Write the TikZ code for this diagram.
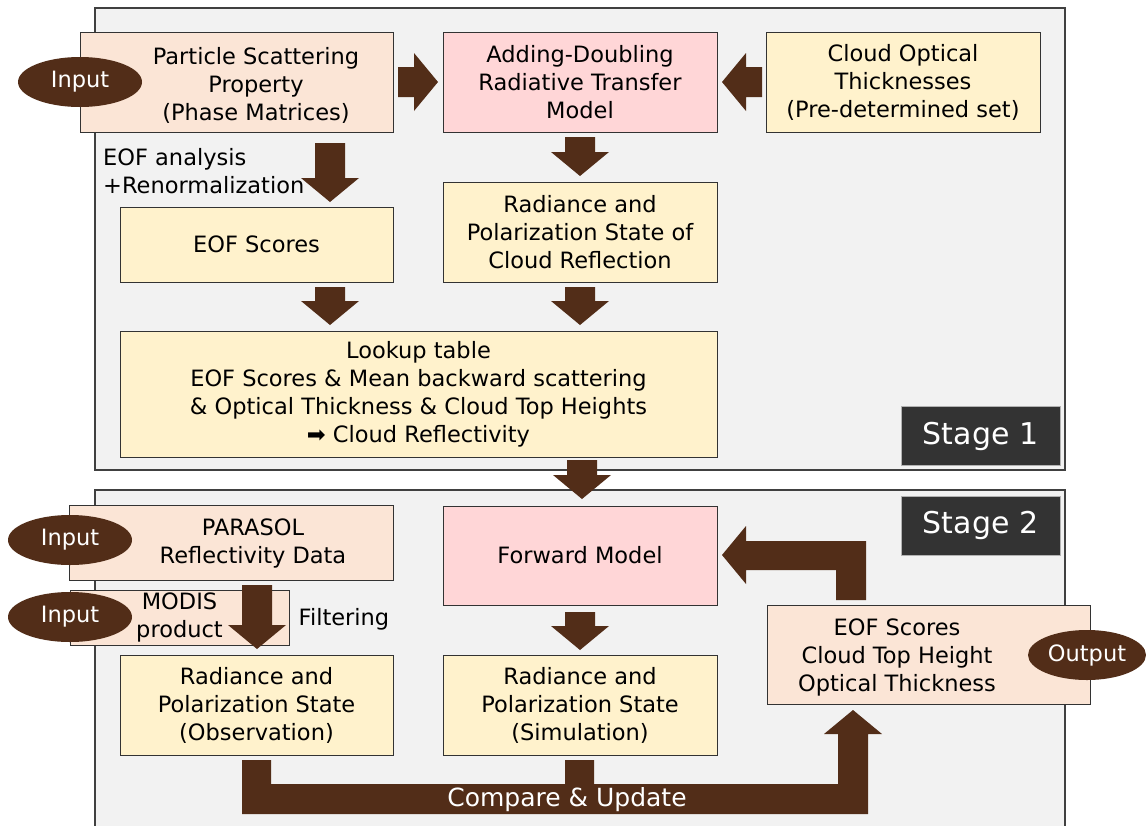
\documentclass[tikz,border=0pt]{standalone}
\usepackage{fontspec}
\setmainfont{DejaVu Sans}
\usetikzlibrary{shapes.geometric}
\definecolor{brn}{HTML}{522D18}
\definecolor{peach}{HTML}{FBE5D6}
\definecolor{mpink}{HTML}{FFD6D7}
\definecolor{myel}{HTML}{FFF2CC}
\definecolor{bggray}{HTML}{F2F2F2}
\definecolor{stgray}{HTML}{333333}
\tikzset{
  box/.style={draw=black!80,line width=1pt,minimum width=274pt,minimum height=100pt,inner sep=0pt,align=center},
  txt/.style={inner sep=0pt,align=center},
  inp/.style={ellipse,fill=brn,text=white,minimum width=124pt,minimum height=50pt,inner sep=0pt},
  stagebg/.style={fill=bggray,draw=black!75,line width=1.5pt},
  stagelbl/.style={fill=stgray,draw=black!30,text=white,minimum width=159pt,minimum height=59pt,font=\fontsize{30}{36}\selectfont},
  blk/.style={fill=brn}
}

\begin{document}
\begin{tikzpicture}[x=1pt,y=-1pt,font=\fontsize{22.5}{28}\selectfont]
	\useasboundingbox (0,0) rectangle (1146,825);
	\draw[stagebg] (95,8) rectangle (1065,470); %Stage 1
	\draw[stagebg] (95,490) rectangle (1065,840); %Stage 2
	% Stage 1
	\node[box,fill=peach,minimum width=313pt] (ps) at (236.5,82) {};
	\node[txt] (pstxt) at (256,85) {Particle Scattering\\Property\\(Phase Matrices)};
	\node[box,fill=mpink] (ad) at (580,82) {Adding-Doubling\\Radiative Transfer\\Model};
	\node[box,fill=myel] (cot) at (903,82) {Cloud Optical\\Thicknesses\\(Pre-determined set)};
	\node[box,fill=myel,minimum width=273pt,minimum height=75pt] (eofs) at (256.5,244.5) {EOF Scores};
	\node[box,fill=myel] (rad) at (580,232) {Radiance and\\Polarization State of\\Cloud Reflection};
	\node[box,fill=myel,minimum width=597pt,minimum height=126pt] (lut) at (418.5,394) {Lookup table\\EOF Scores \& Mean backward scattering\\\& Optical Thickness \& Cloud Top Heights\\➡ Cloud Reflectivity};
	\node[txt,align=left,anchor=west] (eofa) at (103,171) {EOF analysis\\+Renormalization};
	\node[stagelbl] (st1) at (980.5,436) {Stage 1};
	\node[inp] (in1) at (80,82) {Input};
	% Stage 2
	\node[box,fill=peach,minimum width=324pt,minimum height=75pt] (par) at (231,542.5) {};
	\node[txt] (partxt) at (253,543) {PARASOL\\Reflectivity Data};
	\node[box,fill=mpink,minimum height=99pt] (fwd) at (580,555.5) {Forward Model};
	\node[box,fill=peach,minimum width=219pt,minimum height=55pt] (mod) at (179.5,617.5) {MODIS\\product};
	\node[txt] (filt) at (344,619) {Filtering};
	\node[box,fill=myel,minimum width=273pt] (obs) at (256.5,705) {Radiance and\\Polarization State\\(Observation)};
	\node[box,fill=myel] (sim) at (580,705) {Radiance and\\Polarization State\\(Simulation)};
	\node[box,fill=peach,minimum width=323pt,minimum height=99pt] (out) at (928.5,654.5) {};
	\node[txt] (outtxt) at (897,657) {EOF Scores\\Cloud Top Height\\Optical Thickness};
	\node[stagelbl] (st2) at (980.5,525.5) {Stage 2};
	\node[inp] (in2) at (70,540) {Input};
	\node[inp] (in3) at (70,617) {Input};
	\node[inp,minimum width=118pt] (outp) at (1087,655) {Output};
	% block arrows
	\fill[blk] (398,67) -- (414,67) -- (414,53) -- (438,82) -- (414,111) -- (414,97) -- (398,97) -- cycle;
	\fill[blk] (762,67) -- (746,67) -- (746,53) -- (722,82) -- (746,111) -- (746,97) -- (762,97) -- cycle;
	\foreach \x/\a/\b in {330/143/202, 580/137/176, 330/287/325, 580/287/325, 582/460/499, 580/612/650, 257/585/649}
		\fill[blk] (\x-15,\a) -- (\x+15,\a) -- (\x+15,\b-24) -- (\x+29,\b-24) -- (\x,\b) -- (\x-29,\b-24) -- (\x-15,\b-24) -- cycle;
	\fill[blk] (836,600) -- (836,570) -- (746,570) -- (746,584) -- (722,555) -- (746,526) -- (746,541) -- (866,541) -- (866,600) -- cycle; %update
	\fill[blk] (242,760) -- (242,814) -- (868,814) -- (868,734) -- (882,734) -- (853,710) -- (824,734) -- (838,734) -- (838,784)
		-- (594,784) -- (594,760) -- (565,760) -- (565,784) -- (271,784) -- (271,760) -- cycle;
	\node[text=white,font=\fontsize{25}{30}\selectfont] (cmp) at (567,800) {Compare \& Update};
\end{tikzpicture}
\end{document}
